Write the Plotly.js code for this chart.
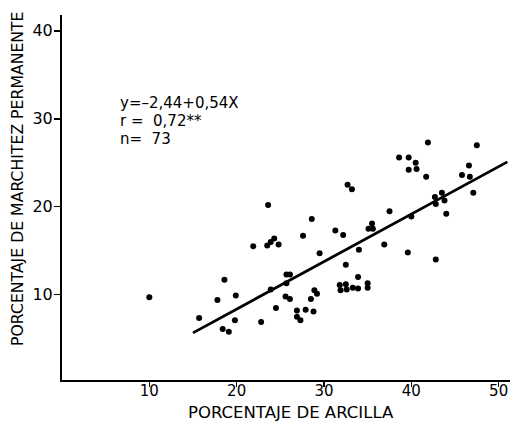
<!DOCTYPE html>
<html>
<head>
<meta charset="utf-8">
<script src="https://cdn.plot.ly/plotly-3.0.1.min.js"></script>
<style>html,body{margin:0;padding:0;background:#fff;}#chart{width:524px;height:424px;}</style>
</head>
<body>
<div id="chart"></div>
<script>
// Percentage of clay (x) and permanent wilting percentage (y)
const clayPct = [
  10.0, 18.6, 17.8, 19.9, 15.7, 18.4, 19.1, 19.8,
  38.6, 39.7, 39.7, 32.7, 33.2, 23.6, 28.6, 37.5, 27.6, 31.3, 32.2, 35.1,
  35.5, 35.6, 21.9, 23.5, 23.9, 24.3, 24.8, 29.5, 34.0, 36.9, 39.6, 32.5,
  25.7, 26.1, 25.7, 23.9, 25.6, 26.1, 28.9, 29.2, 28.5, 31.8, 32.5, 31.9,
  32.6, 33.3, 33.9, 33.9, 35.0, 35.0, 24.5, 26.9, 27.9, 28.8, 26.9, 27.3, 22.8,
  41.9, 47.5, 40.5, 40.6, 41.7, 46.6, 45.8, 46.7, 43.5, 42.7, 42.8, 43.8,
  47.1, 40.0, 44.0, 42.8
];
const wiltingPct = [
  9.7, 11.7, 9.4, 9.9, 7.35, 6.1, 5.8, 7.1,
  25.6, 25.6, 24.2, 22.5, 22.0, 20.2, 18.6, 19.5, 16.7, 17.3, 16.8, 17.5,
  18.1, 17.5, 15.5, 15.6, 16.0, 16.4, 15.7, 14.7, 15.1, 15.7, 14.8, 13.4,
  12.3, 12.3, 11.3, 10.6, 9.8, 9.5, 10.5, 10.1, 9.5, 11.1, 11.2, 10.5,
  10.6, 10.8, 10.7, 12.0, 11.3, 10.8, 8.5, 8.2, 8.3, 8.1, 7.5, 7.1, 6.9,
  27.3, 27.0, 25.0, 24.3, 23.4, 24.7, 23.6, 23.4, 21.6, 21.1, 20.3, 20.7,
  21.6, 18.9, 19.2, 14.0
];
// Regression line y = -2.44 + 0.54X, end points
const fitX = [15, 51];
const fitY = [5.66, 25.1];
const xTicks = [10, 20, 30, 40, 50];
const xTickText = ['10', '20', '30', '40', '50'];
const yTicks = [10, 20, 30, 40];
const yTickText = ['10', '20', '30', '40'];
const statLines = ['y=–2,44+0,54X', 'r =  0,72**', 'n=  73'];
const xTitle = 'PORCENTAJE DE ARCILLA';
const yTitle = 'PORCENTAJE DE MARCHITEZ PERMANENTE';

const FONT = 'DejaVu Sans, Liberation Sans, Arial, sans-serif';

const traces = [
  {
    x: clayPct, y: wiltingPct, type: 'scatter', mode: 'markers',
    marker: {color: '#000', size: 6}, hoverinfo: 'skip', showlegend: false
  },
  {
    x: fitX, y: fitY, type: 'scatter', mode: 'lines',
    line: {color: '#000', width: 2.8}, hoverinfo: 'skip', showlegend: false
  }
];

const layout = {
  width: 524, height: 424,
  paper_bgcolor: '#fff', plot_bgcolor: '#fff',
  margin: {l: 62, r: 14, t: 15, b: 44},
  font: {family: FONT, color: '#000'},
  showlegend: false,
  xaxis: {
    range: [0, 51.3], showgrid: false, zeroline: false,
    showline: true, linecolor: '#000', linewidth: 2,
    ticks: 'outside', ticklen: 5, tickwidth: 1.5, tickcolor: '#000',
    tickvals: xTicks, ticktext: xTickText,
    tickfont: {size: 15, family: FONT, color: '#000'},
    ticklabelstandoff: -9
  },
  yaxis: {
    range: [0.3, 41.8], showgrid: false, zeroline: false,
    showline: true, linecolor: '#000', linewidth: 2,
    ticks: 'outside', ticklen: 6, tickwidth: 1.5, tickcolor: '#000',
    tickvals: yTicks, ticktext: yTickText,
    tickfont: {size: 16, family: FONT, color: '#000'},
    ticklabelstandoff: -2
  },
  annotations: statLines.map((t, i) => ({
    text: t, xref: 'paper', yref: 'paper',
    x: (118 - 62) / 448, y: 1 - ((103 + i * 18) - 15) / 365,
    xanchor: 'left', yanchor: 'middle', showarrow: false,
    font: {size: 15, family: FONT, color: '#000'}
  })).concat([
    {
      text: xTitle, xref: 'paper', yref: 'paper',
      x: (291 - 62) / 448, y: -(412 - 380) / 365,
      xanchor: 'center', yanchor: 'middle', showarrow: false,
      font: {size: 16.5, family: FONT, color: '#000'}
    },
    {
      text: yTitle, xref: 'paper', yref: 'paper', textangle: -90,
      x: -(62 - 18) / 448, y: 1 - (179 - 15) / 365,
      xanchor: 'center', yanchor: 'middle', showarrow: false,
      font: {size: 15.7, family: FONT, color: '#000'}
    }
  ])
};

Plotly.newPlot('chart', traces, layout, {displayModeBar: false, staticPlot: true});
</script>
</body>
</html>
